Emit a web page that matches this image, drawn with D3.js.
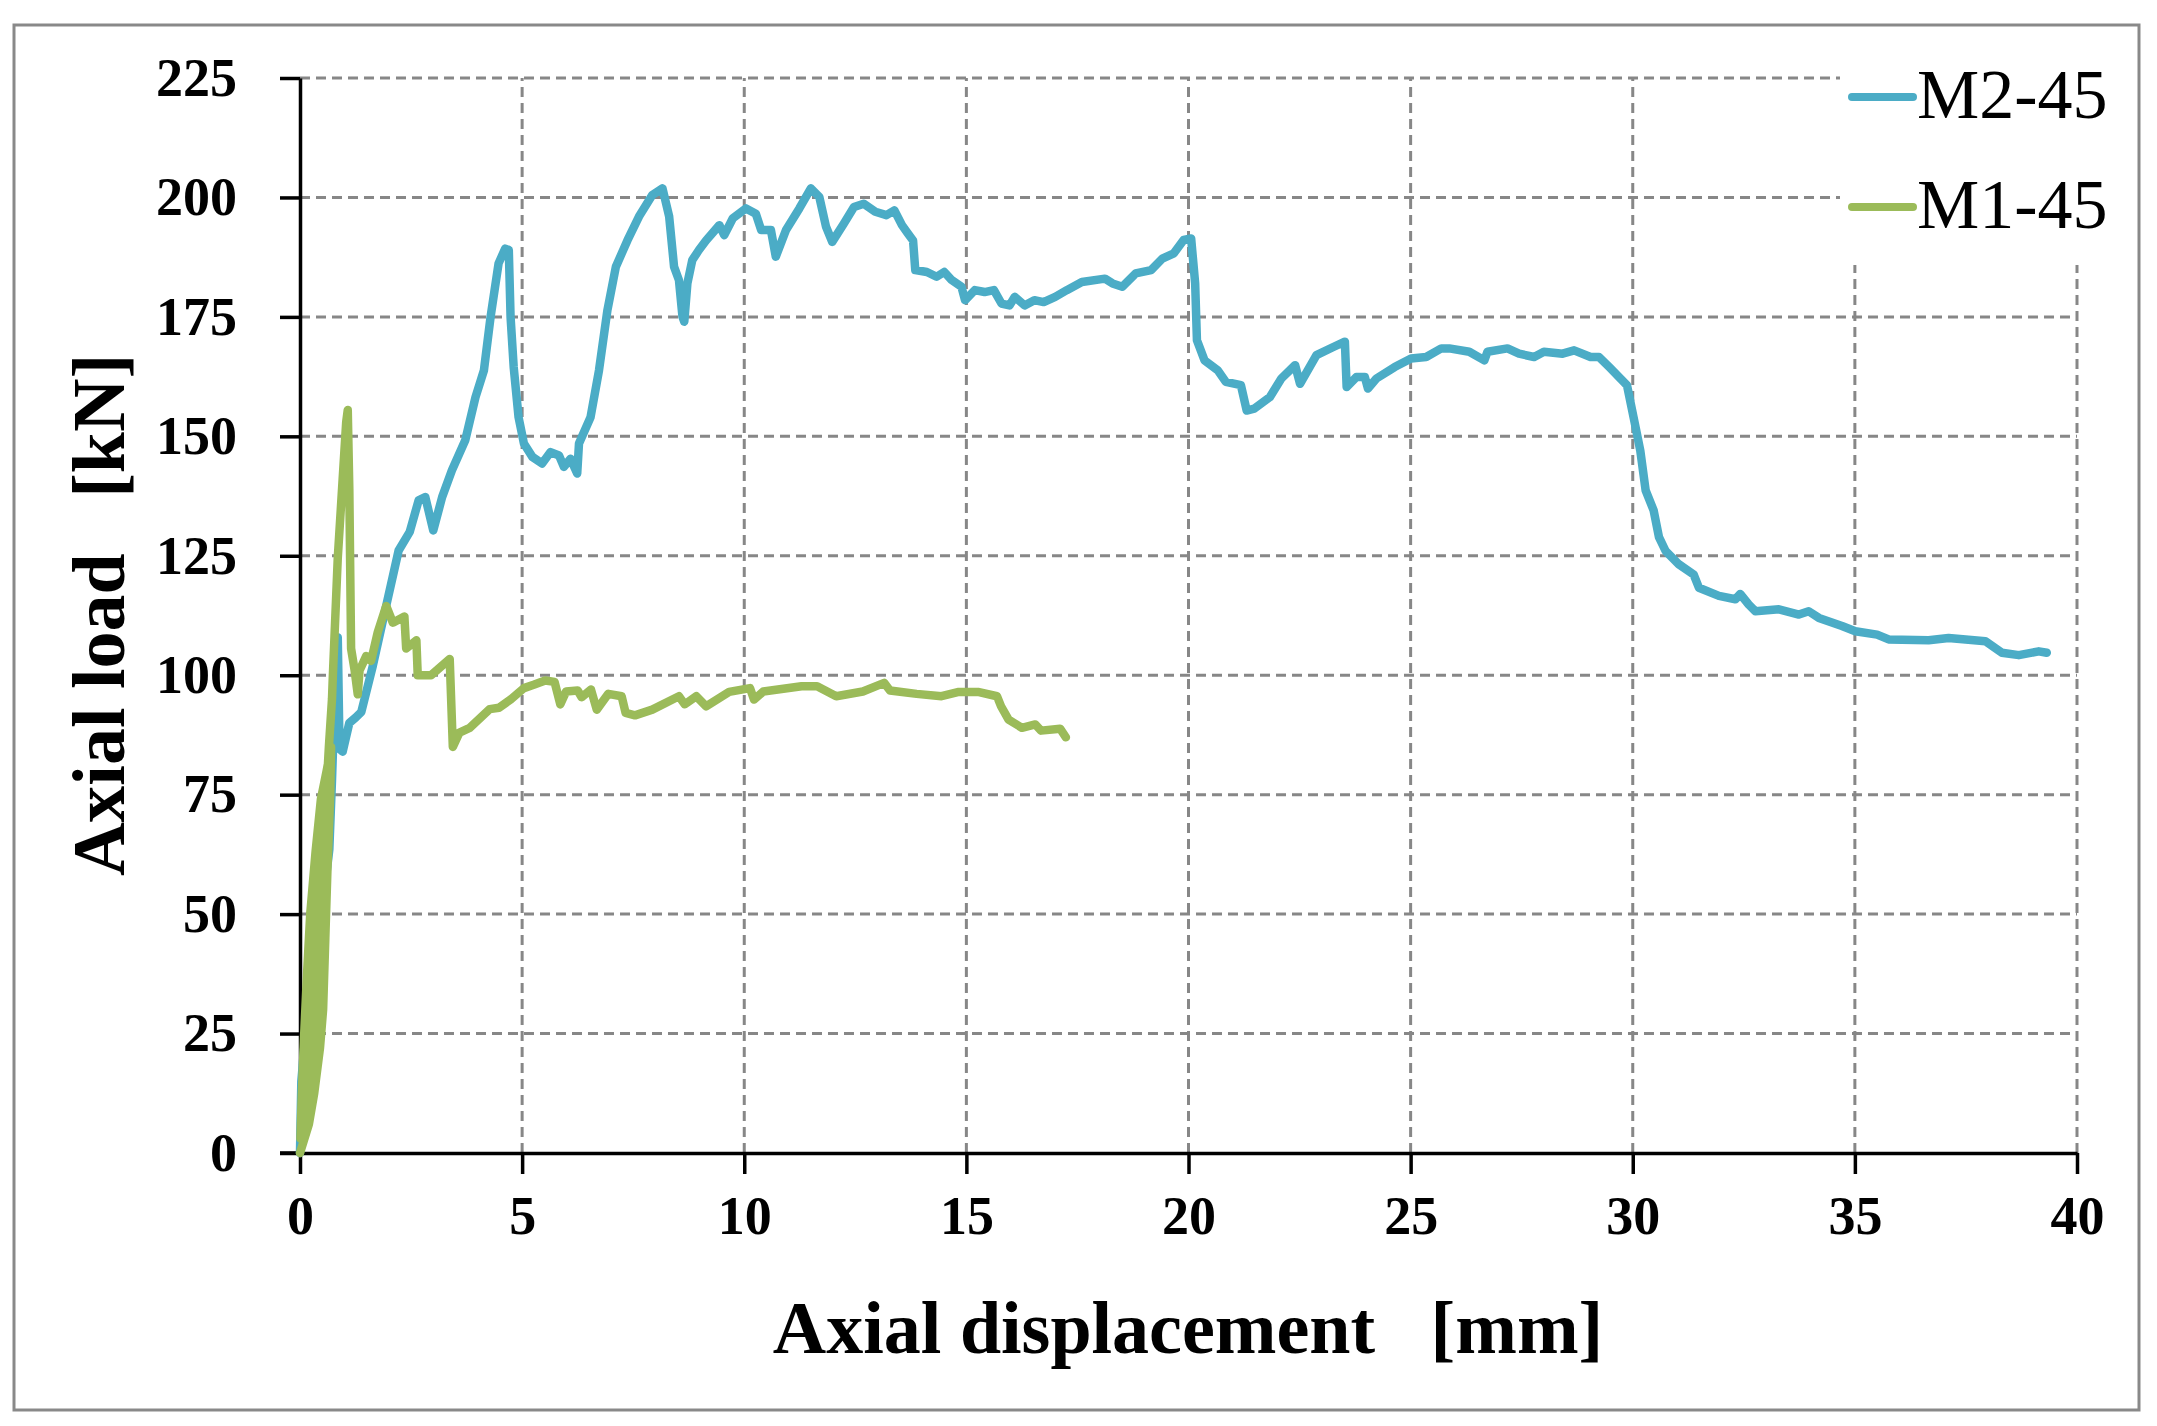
<!DOCTYPE html>
<html>
<head>
<meta charset="utf-8">
<script src="https://cdn.jsdelivr.net/npm/d3@7"></script>
<style>
  html, body { margin: 0; padding: 0; background: #fff; }
  svg text { font-family: "Liberation Serif", "Times New Roman", serif; white-space: pre; }
</style>
</head>
<body>
<div id="chart"></div>
<script>
// axial displacement [mm], axial load [kN]
var m2Points = [
  [0, 0], [0.03, 15], [0.15, 28], [0.35, 42], [0.55, 55], [0.66, 63.5], [0.72, 78], [0.78, 95],
  [0.85, 107.9], [0.89, 84.6], [0.96, 84], [1.11, 90], [1.26, 91.2], [1.38, 92.3], [1.64, 102],
  [1.94, 114.5], [2.22, 126.1], [2.47, 130], [2.67, 136.6], [2.82, 137.3], [3.0, 130.3], [3.2, 137.3],
  [3.42, 142.9], [3.72, 149.2], [3.95, 158.2], [4.14, 163.8], [4.29, 175], [4.47, 186.2], [4.62, 189.3],
  [4.7, 189], [4.74, 175], [4.81, 164.5], [4.92, 154], [5.04, 148.5], [5.23, 145.7], [5.45, 144.3],
  [5.64, 146.7], [5.83, 146], [5.94, 143.6], [6.09, 145.3], [6.24, 142.2], [6.28, 148.5], [6.54, 154],
  [6.73, 163.8], [6.92, 176.4], [7.11, 185.5], [7.37, 191], [7.63, 196], [7.93, 200.5], [8.16, 201.9],
  [8.31, 196], [8.42, 185.5], [8.53, 182.7], [8.61, 175], [8.65, 174], [8.72, 182], [8.83, 186.9],
  [8.98, 189], [9.14, 191], [9.44, 194.2], [9.55, 192.1], [9.74, 195.6], [10.04, 197.7], [10.26, 196.6],
  [10.38, 193.2], [10.6, 193.2], [10.71, 187.6], [10.94, 193.2], [11.24, 197.7], [11.5, 201.9],
  [11.69, 200.1], [11.84, 193.9], [11.98, 190.7], [12.24, 194.5], [12.47, 198], [12.69, 198.7],
  [12.95, 197], [13.2, 196.3], [13.38, 197.3], [13.55, 194.2], [13.68, 192.5], [13.8, 191],
  [13.85, 184.8], [14.11, 184.4], [14.33, 183.4], [14.5, 184.4], [14.67, 182.7], [14.89, 181.3],
  [14.97, 178.5], [15.19, 180.6], [15.41, 180.2], [15.62, 180.6], [15.79, 177.8], [15.97, 177.4],
  [16.09, 179.2], [16.31, 177.4], [16.53, 178.5], [16.74, 178.1], [17.0, 179.2], [17.26, 180.6],
  [17.6, 182.3], [18.12, 183], [18.29, 182], [18.51, 181.3], [18.81, 184.1], [19.16, 184.8],
  [19.41, 187.2], [19.67, 188.3], [19.89, 191.1], [20.06, 191.4], [20.15, 182], [20.19, 170.1],
  [20.36, 165.9], [20.66, 163.8], [20.84, 161.4], [21.18, 160.7], [21.31, 155.4], [21.48, 155.8],
  [21.83, 158.2], [22.09, 162.1], [22.4, 164.9], [22.51, 161], [22.88, 167], [23.26, 168.7],
  [23.52, 169.8], [23.56, 160.3], [23.78, 162.4], [23.97, 162.4], [24.04, 160], [24.23, 162.1],
  [24.64, 164.5], [25.01, 166.3], [25.35, 166.6], [25.69, 168.4], [25.87, 168.4], [26.32, 167.7],
  [26.66, 165.9], [26.73, 167.7], [27.18, 168.4], [27.44, 167.3], [27.78, 166.6], [28, 167.7],
  [28.42, 167.3], [28.68, 168], [29.05, 166.6], [29.24, 166.6], [29.47, 164.5], [29.87, 160.7],
  [30.04, 153], [30.17, 147], [30.29, 138.7], [30.47, 134.5], [30.59, 128.9], [30.74, 126],
  [31.04, 123.2], [31.37, 121.1], [31.49, 118.3], [31.94, 116.6], [32.31, 115.9], [32.42, 117],
  [32.61, 114.8], [32.76, 113.4], [33.29, 113.8], [33.74, 112.7], [33.96, 113.4], [34.19, 112],
  [34.71, 110.3], [35.01, 109.2], [35.5, 108.5], [35.76, 107.5], [36.66, 107.3], [37.11, 107.8],
  [37.94, 107.1], [38.31, 104.7], [38.69, 104.2], [39.14, 105], [39.32, 104.7]
];

// the first part holds the loading / unloading cycles that look like a filled wedge
var m1Points = [
  [0, 0], [0.2, 6], [0.32, 12.5], [0.45, 22], [0.52, 30], [0.57, 45], [0.62, 60], [0.68, 75], [0.7, 85],
  [0.6, 80], [0.47, 74], [0.35, 63], [0.23, 50], [0.15, 36], [0.09, 24], [0.04, 12], [0.01, 3],
  [0.12, 6], [0.25, 14], [0.38, 26], [0.46, 40], [0.52, 55], [0.6, 72], [0.66, 82],
  [0.52, 72], [0.4, 58], [0.3, 45], [0.2, 30], [0.12, 18], [0.05, 8],
  [0.15, 10], [0.28, 22], [0.38, 35], [0.45, 50], [0.55, 68], [0.65, 85], [0.72, 95], [0.74, 100],
  [0.85, 124.5], [0.96, 141], [1.04, 153], [1.075, 155.5], [1.11, 139], [1.15, 105.6], [1.23, 101],
  [1.3, 96], [1.34, 101], [1.49, 104], [1.6, 103], [1.75, 109], [1.94, 114.5], [2.09, 111],
  [2.35, 112.3], [2.39, 105.6], [2.62, 107.3], [2.65, 100], [2.95, 100], [3.37, 103.4], [3.44, 85],
  [3.59, 88], [3.82, 89], [4.27, 92.9], [4.48, 93.2], [4.74, 94.9], [5.04, 97.3], [5.26, 98],
  [5.52, 98.9], [5.73, 98.6], [5.86, 93.9], [5.99, 96.6], [6.25, 96.8], [6.34, 95.4], [6.55, 97],
  [6.68, 92.8], [6.94, 96.1], [7.24, 95.6], [7.33, 92.1], [7.54, 91.6], [7.93, 92.8], [8.53, 95.6],
  [8.66, 93.9], [8.92, 95.6], [9.14, 93.5], [9.66, 96.5], [10.13, 97.3], [10.22, 94.9], [10.43, 96.6],
  [11.29, 97.7], [11.64, 97.7], [12.07, 95.6], [12.67, 96.6], [13.15, 98.4], [13.28, 96.8],
  [13.88, 96.1], [14.44, 95.6], [14.83, 96.5], [15.26, 96.5], [15.69, 95.6], [15.78, 93.5],
  [15.95, 90.7], [16.25, 89], [16.55, 89.7], [16.68, 88.4], [17.11, 88.8], [17.24, 87]
];

var seriesNames = ['M2-45', 'M1-45'];
var seriesColors = ['#4bacc6', '#9bbb59'];
var xTicks = [0, 5, 10, 15, 20, 25, 30, 35, 40];
var yTicks = [0, 25, 50, 75, 100, 125, 150, 175, 200, 225];

(function () {
  'use strict';

  var width = 2157;
  var height = 1426;
  var margin = { left: 300, right: 80, top: 78, bottom: 273 };

  var svg = d3.select('#chart')
      .append('svg')
      .attr('width', width)
      .attr('height', height);

  svg.append('rect')
      .attr('width', width)
      .attr('height', height)
      .attr('fill', '#fff');

  // outer frame
  svg.append('rect')
      .attr('x', 14).attr('y', 25)
      .attr('width', 2125).attr('height', 1385)
      .attr('fill', 'none')
      .attr('stroke', '#898989')
      .attr('stroke-width', 3);

  var x = d3.scaleLinear().domain([0, 40]).range([margin.left, width - margin.right]);
  var y = d3.scaleLinear().domain([0, 225]).range([height - margin.bottom, margin.top]);

  // dashed grid
  var grid = svg.append('g')
      .attr('stroke', '#878787')
      .attr('stroke-width', 3)
      .attr('stroke-dasharray', '10,6');

  grid.selectAll('line.h')
      .data(yTicks.filter(function (d) { return d > 0; }))
      .enter().append('line')
      .attr('class', 'h')
      .attr('x1', x(0)).attr('x2', x(40))
      .attr('y1', function (d) { return y(d); })
      .attr('y2', function (d) { return y(d); });

  grid.selectAll('line.v')
      .data(xTicks.filter(function (d) { return d > 0; }))
      .enter().append('line')
      .attr('class', 'v')
      .attr('y1', y(0)).attr('y2', y(225))
      .attr('x1', function (d) { return x(d); })
      .attr('x2', function (d) { return x(d); });

  // legend background hides the grid behind it
  svg.append('rect')
      .attr('x', 1840).attr('y', 27)
      .attr('width', 296).attr('height', 238)
      .attr('fill', '#fff');

  // axes
  var xAxis = svg.append('g')
      .attr('transform', 'translate(0,' + y(0) + ')')
      .call(d3.axisBottom(x).tickValues(xTicks).tickSize(21).tickPadding(22).tickSizeOuter(0));

  var yAxis = svg.append('g')
      .attr('transform', 'translate(' + x(0) + ',0)')
      .call(d3.axisLeft(y).tickValues(yTicks).tickSize(20).tickPadding(43).tickSizeOuter(0));

  [xAxis, yAxis].forEach(function (ax) {
    ax.select('.domain').attr('stroke', '#000').attr('stroke-width', 3.5);
    ax.selectAll('.tick line').attr('stroke', '#000').attr('stroke-width', 3.5);
    ax.selectAll('.tick text')
        .attr('fill', '#000')
        .style('font-family', '"Liberation Serif", "Times New Roman", serif')
        .style('font-size', '54px')
        .style('font-weight', 'bold');
  });
  // x axis line also runs under the 0 tick of the y axis
  xAxis.append('line')
      .attr('x1', x(0) - 20).attr('x2', x(0))
      .attr('stroke', '#000').attr('stroke-width', 3.5);

  // curves
  var line = d3.line()
      .x(function (d) { return x(d[0]); })
      .y(function (d) { return y(d[1]); });

  [m2Points, m1Points].forEach(function (pts, i) {
    svg.append('path')
        .datum(pts)
        .attr('d', line)
        .attr('fill', 'none')
        .attr('stroke', seriesColors[i])
        .attr('stroke-width', 8.5)
        .attr('stroke-linejoin', 'round')
        .attr('stroke-linecap', 'round');
  });

  // axis titles
  svg.append('text')
      .attr('x', 1188).attr('y', 1353)
      .attr('text-anchor', 'middle')
      .style('font-size', '74px')
      .style('font-weight', 'bold')
      .text('Axial displacement   [mm]');

  svg.append('text')
      .attr('transform', 'translate(124,615) rotate(-90)')
      .attr('text-anchor', 'middle')
      .style('font-size', '74px')
      .style('font-weight', 'bold')
      .text('Axial load   [kN]');

  // legend
  var legend = svg.append('g');
  seriesNames.forEach(function (name, i) {
    var ly = 97 + i * 110;
    legend.append('line')
        .attr('x1', 1852).attr('x2', 1913)
        .attr('y1', ly).attr('y2', ly)
        .attr('stroke', seriesColors[i])
        .attr('stroke-width', 8)
        .attr('stroke-linecap', 'round');
    legend.append('text')
        .attr('x', 1917).attr('y', ly + 21)
        .style('font-size', '70px')
        .text(name);
  });
})();
</script>
</body>
</html>
